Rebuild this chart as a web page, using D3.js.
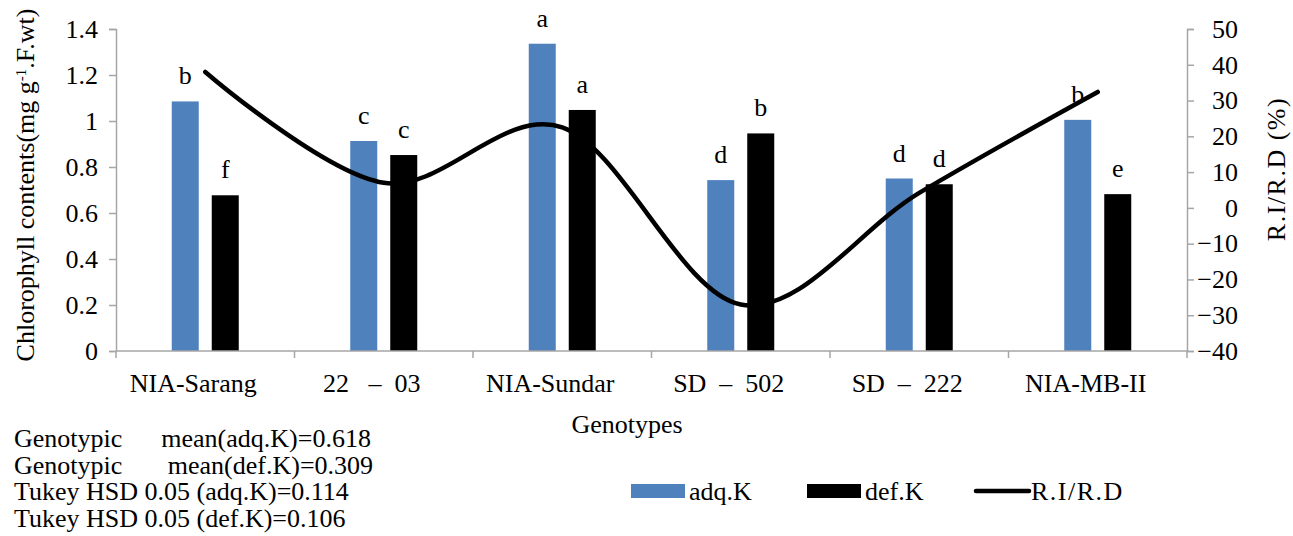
<!DOCTYPE html>
<html>
<head>
<meta charset="utf-8">
<script src="https://cdn.jsdelivr.net/npm/d3@7"></script>
<style>
  body { margin: 0; background: #fff; }
  svg { font-family: "Liberation Serif", "DejaVu Serif", serif; }
  text { fill: #000; white-space: pre; }
</style>
</head>
<body>
<svg id="chart" width="1293" height="536"></svg>
<script>
// data
const genotypes = ['NIA-Sarang', '22   \u2013  03', 'NIA-Sundar', 'SD  \u2013  502', 'SD  \u2013  222', 'NIA-MB-II'];
const adqK = [1.085, 0.913, 1.336, 0.743, 0.750, 1.005];
const defK = [0.677, 0.852, 1.048, 0.946, 0.725, 0.682];
const adqLetters = ['b', 'c', 'a', 'd', 'd', 'b'];
const defLetters = ['f', 'c', 'a', 'b', 'd', 'e'];
const riRd = [38.0, 7.0, 22.5, -27.0, 4.2, 32.4];
const leftTicks = [0, 0.2, 0.4, 0.6, 0.8, 1, 1.2, 1.4];
const rightTicks = [-40, -30, -20, -10, 0, 10, 20, 30, 40, 50];
const notes = [
  'Genotypic      mean(adq.K)=0.618',
  'Genotypic       mean(def.K)=0.309',
  'Tukey HSD 0.05 (adq.K)=0.114',
  'Tukey HSD 0.05 (def.K)=0.106'
];

const blue = '#4f81bd';
const axisGrey = '#a6a6a6';
const fs = 26;

const svg = d3.select('#chart');
const plotLeft = 116, plotRight = 1187, plotTop = 29, plotBottom = 351;

const x = d3.scaleBand().domain(genotypes).range([plotLeft, plotRight]);
const yL = d3.scaleLinear().domain([0, 1.4]).range([plotBottom, plotTop]);
const yR = d3.scaleLinear().domain([-40, 50]).range([plotBottom, plotTop]);

const barW = 27, gap = 13;

// bars
const g = svg.append('g');
genotypes.forEach(function (name, i) {
  let c = x(name) + x.bandwidth() / 2;
  g.append('rect')
    .attr('x', c - gap / 2 - barW)
    .attr('y', yL(adqK[i]))
    .attr('width', barW)
    .attr('height', yL(0) - yL(adqK[i]))
    .attr('fill', blue);
  g.append('rect')
    .attr('x', c + gap / 2)
    .attr('y', yL(defK[i]))
    .attr('width', barW)
    .attr('height', yL(0) - yL(defK[i]))
    .attr('fill', '#000');
  g.append('text')
    .attr('x', c - gap / 2 - barW / 2)
    .attr('y', yL(adqK[i]) - 17)
    .attr('text-anchor', 'middle')
    .attr('font-size', fs)
    .text(adqLetters[i]);
  g.append('text')
    .attr('x', c + gap / 2 + barW / 2)
    .attr('y', yL(defK[i]) - 17)
    .attr('text-anchor', 'middle')
    .attr('font-size', fs)
    .text(defLetters[i]);
});

// axes
const axL = svg.append('g').attr('transform', `translate(${plotLeft},0)`)
  .call(d3.axisLeft(yL).tickValues(leftTicks).tickSize(7).tickPadding(11)
    .tickFormat(d => d3.format('')(+d.toFixed(1))));
const axR = svg.append('g').attr('transform', `translate(${plotRight},0)`)
  .call(d3.axisRight(yR).tickValues(rightTicks).tickSize(7).tickPadding(8));
const axB = svg.append('g').attr('transform', `translate(0,${plotBottom})`)
  .call(d3.axisBottom(x).tickSize(0).tickPadding(23));

[axL, axR, axB].forEach(function (a) {
  a.attr('font-family', '"Liberation Serif", serif');
  a.select('.domain').attr('stroke', axisGrey).attr('stroke-width', 1.5);
  a.selectAll('.tick line').attr('stroke', axisGrey).attr('stroke-width', 1.5);
  a.selectAll('text').attr('font-size', fs).attr('fill', '#000');
});
axB.select('.domain').attr('d', `M${plotLeft},0H${plotRight}`);
axB.selectAll('.tick text').attr('dx', -12);
// right axis numbers sit right-aligned
axR.selectAll('.tick text').attr('text-anchor', 'end').attr('x', 51);

// category boundary ticks on x axis
const bounds = genotypes.map(d => x(d)).concat([plotRight]);
axB.selectAll('.bound').data(bounds).enter().append('line')
  .attr('x1', d => d).attr('x2', d => d)
  .attr('y1', 0).attr('y2', 7)
  .attr('stroke', axisGrey).attr('stroke-width', 1.5);

// smooth line
const line = d3.line()
  .x((d, i) => x(genotypes[i]) + x.bandwidth() / 2)
  .y(d => yR(d))
  .curve(d3.curveCardinal.tension(0));
svg.append('path')
  .datum(riRd)
  .attr('d', line)
  .attr('fill', 'none')
  .attr('stroke', '#000')
  .attr('stroke-width', 4.5)
  .attr('stroke-linecap', 'round');

// axis titles
const yTitle = svg.append('text')
  .attr('transform', 'translate(34,185) rotate(-90)')
  .attr('text-anchor', 'middle')
  .attr('font-size', fs);
yTitle.append('tspan').text('Chlorophyll contents(mg g');
yTitle.append('tspan').attr('baseline-shift', 'super').attr('font-size', 15).text('-1');
yTitle.append('tspan').text('.F.wt)');

svg.append('text')
  .attr('transform', 'translate(1285,169) rotate(-90)')
  .attr('text-anchor', 'middle')
  .attr('font-size', fs)
  .attr('letter-spacing', 1.5)
  .text('R.I/R.D (%)');

svg.append('text')
  .attr('x', 627).attr('y', 433)
  .attr('text-anchor', 'middle')
  .attr('font-size', fs)
  .text('Genotypes');

// notes
svg.append('g').selectAll('text').data(notes).enter().append('text')
  .attr('x', 14)
  .attr('y', (d, i) => 447 + i * 26.5)
  .attr('font-size', fs)
  .attr('xml:space', 'preserve')
  .text(d => d);

// legend
const legend = svg.append('g');
legend.append('rect').attr('x', 631).attr('y', 484).attr('width', 54).attr('height', 14).attr('fill', blue);
legend.append('text').attr('x', 689).attr('y', 500).attr('font-size', fs).text('adq.K');
legend.append('rect').attr('x', 807).attr('y', 484).attr('width', 54).attr('height', 14).attr('fill', '#000');
legend.append('text').attr('x', 865).attr('y', 500).attr('font-size', fs).text('def.K');
legend.append('line').attr('x1', 976).attr('x2', 1029).attr('y1', 491).attr('y2', 491)
  .attr('stroke', '#000').attr('stroke-width', 4.5).attr('stroke-linecap', 'round');
legend.append('text').attr('x', 1031).attr('y', 500).attr('font-size', fs)
  .attr('letter-spacing', 1.5).text('R.I/R.D');
</script>
</body>
</html>
